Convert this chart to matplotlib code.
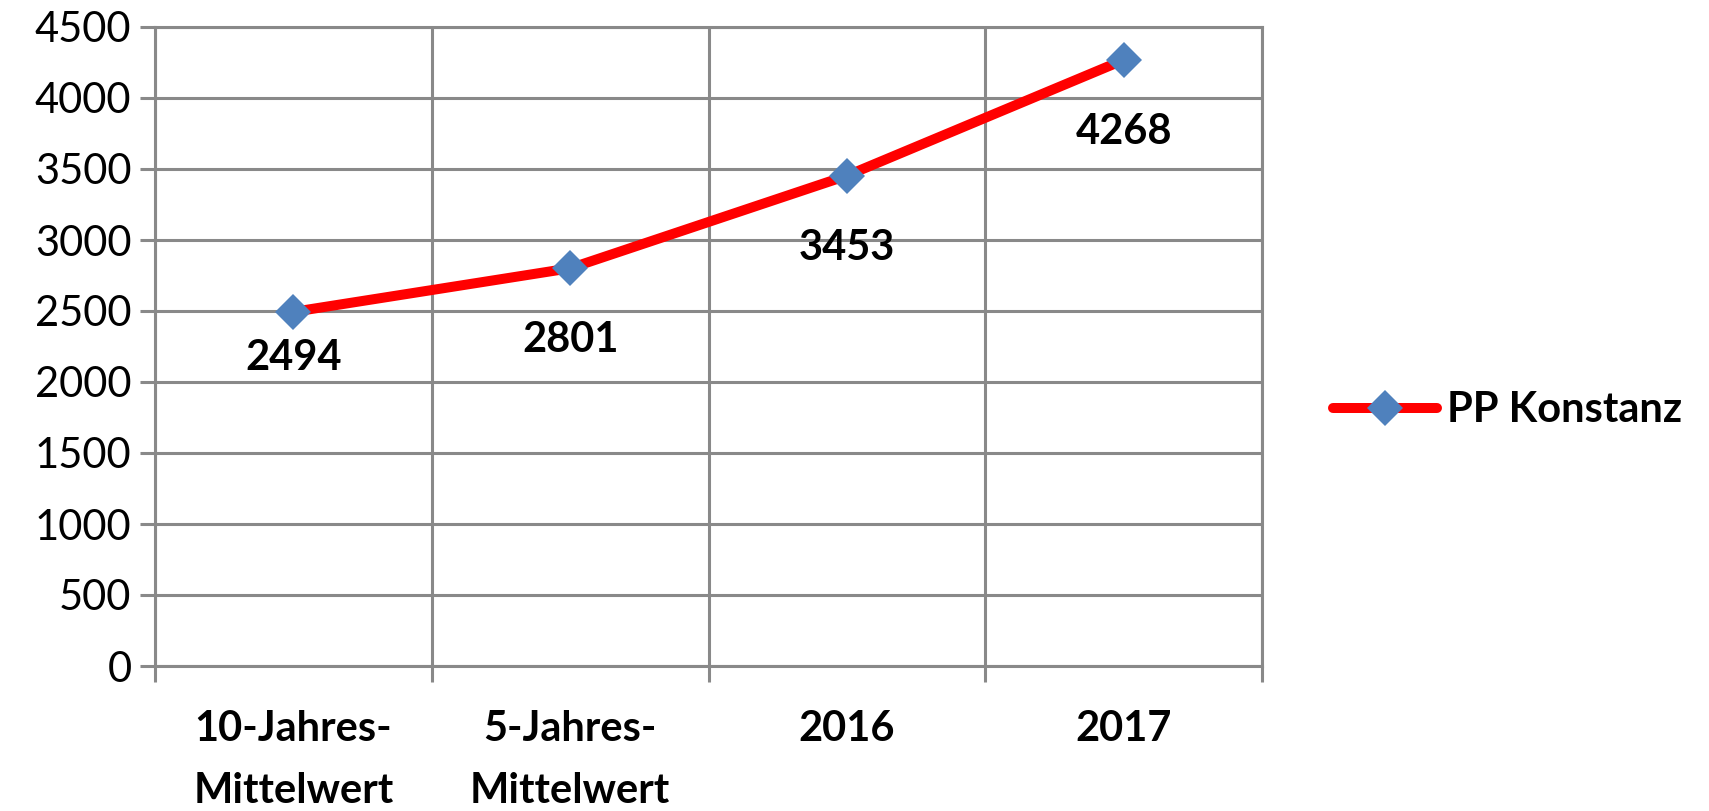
import matplotlib.pyplot as plt
from matplotlib.ticker import FixedLocator, NullFormatter

plt.rcParams['font.family'] = ['Lato', 'DejaVu Sans']

categories = ["10-Jahres-\nMittelwert", "5-Jahres-\nMittelwert", "2016", "2017"]
values = [2494, 2801, 3453, 4268]
series_name = "PP Konstanz"
# vertical offset of each value label below its marker (points)
label_offsets = [33, 52, 52, 52]

grid_color = "#898989"
line_color = "#ff0000"
marker_color = "#4f81bd"

fig = plt.figure(figsize=(17.09, 8.11), dpi=100)
ax = fig.add_axes([155 / 1709, 1 - 666 / 811, 1107 / 1709, 639 / 811])

x = list(range(len(categories)))
ax.plot(x, values, color=line_color, lw=7.2, solid_capstyle="round",
        marker="D", ms=18.5, mfc=marker_color, mec=marker_color, mew=0,
        label=series_name, zorder=3)

for xi, v, off in zip(x, values, label_offsets):
  ax.annotate(str(v), (xi, v), xytext=(0, -off), textcoords="offset points",
              ha="center", va="center", fontsize=30, fontweight="bold")

ax.set_xlim(-0.5, len(categories) - 0.5)
ax.set_ylim(0, 4500)
ax.set_yticks(range(0, 4501, 500))
ax.yaxis.grid(True, color=grid_color, lw=2.2)
ax.xaxis.set_major_locator(FixedLocator([i + 0.5 for i in range(-1, len(categories))]))
ax.xaxis.set_major_formatter(NullFormatter())
ax.xaxis.set_minor_locator(FixedLocator(x))
ax.set_xticklabels(categories, minor=True, fontsize=30, fontweight="bold", linespacing=1.75)
ax.xaxis.grid(True, which="major", color=grid_color, lw=2.2)
ax.tick_params(axis="x", which="major", length=11.5, width=2.2, color=grid_color)
ax.tick_params(axis="x", which="minor", length=0, pad=32)
ax.tick_params(axis="y", length=11, width=2.2, color=grid_color, labelsize=30, pad=6)
for s in ax.spines.values():
  s.set_color(grid_color)
  s.set_linewidth(2.2)
ax.set_axisbelow(True)

ax.legend(loc="center left", bbox_to_anchor=(1.064, 0.40), frameon=False,
          prop={"weight": "bold", "size": 30}, handlelength=2.5,
          handletextpad=0.25, borderpad=0, borderaxespad=0)

fig.savefig("out.png", dpi=100)
